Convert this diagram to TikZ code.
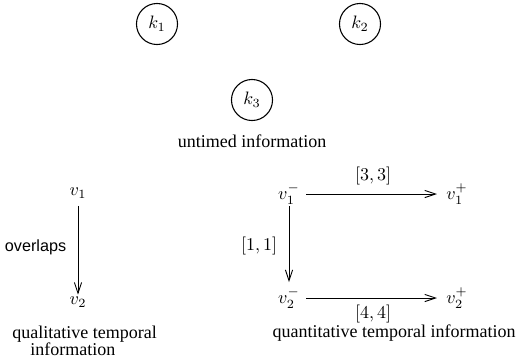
\documentclass[tikz,border=0pt]{standalone}
\usepackage[no-math]{fontspec}
\setmainfont{Liberation Serif}
\setsansfont{Liberation Sans}
\usetikzlibrary{arrows.meta}
\begin{document}
\begin{tikzpicture}[x=0.5556pt,y=-0.5556pt,
  knode/.style={circle,draw,line width=0.6pt,minimum size=22.8pt,inner sep=0pt},
  vnode/.style={inner sep=0pt},
  arr/.style={draw,line width=0.5pt,-{Straight Barb[length=6pt,width=4pt]}},
  lbl/.style={inner sep=0pt}]
\useasboundingbox (0,0) rectangle (522,362);
\node[knode] (k1) at (157,24) {$k_1$};
\node[knode] (k2) at (360,24) {$k_2$};
\node[knode] (k3) at (252,100) {$k_3$};
\node[lbl] (ut) at (252,141) {untimed information};
% qualitative
\node[vnode] (v1) at (78,193) {$v_1$};
\node[vnode] (v2) at (78,302) {$v_2$};
\draw[arr,shorten <=4pt,shorten >=1pt] (v1) -- (v2) node[midway,left=3pt,font=\sffamily\small] (ov) {overlaps};
\node[lbl,align=left,anchor=north west] (ql) at (12,326) {qualitative temporal\\[-3pt]\hspace*{10pt}information};
% quantitative
\node[vnode] (a1) at (289,194) {$v_1^-$};
\node[vnode] (b1) at (457,194) {$v_1^+$};
\node[vnode] (a2) at (289,298) {$v_2^-$};
\node[vnode] (b2) at (457,298) {$v_2^+$};
\draw[arr,shorten <=3.5pt,shorten >=5pt] (a1.east) -- (b1.west) node[midway,above=1.5pt] (l33) {$[3,3]$};
\draw[arr,shorten <=3.5pt,shorten >=5pt] (a2.east) -- (b2.west) node[midway,below=0.5pt] (l44) {$[4,4]$};
\draw[arr,shorten <=1pt,shorten >=3pt] (a1.south) -- (a2.north) node[midway,left=3pt] (l11) {$[1,1]$};
\node[lbl] (qt) at (394,333) {quantitative temporal information};
\end{tikzpicture}
\end{document}
